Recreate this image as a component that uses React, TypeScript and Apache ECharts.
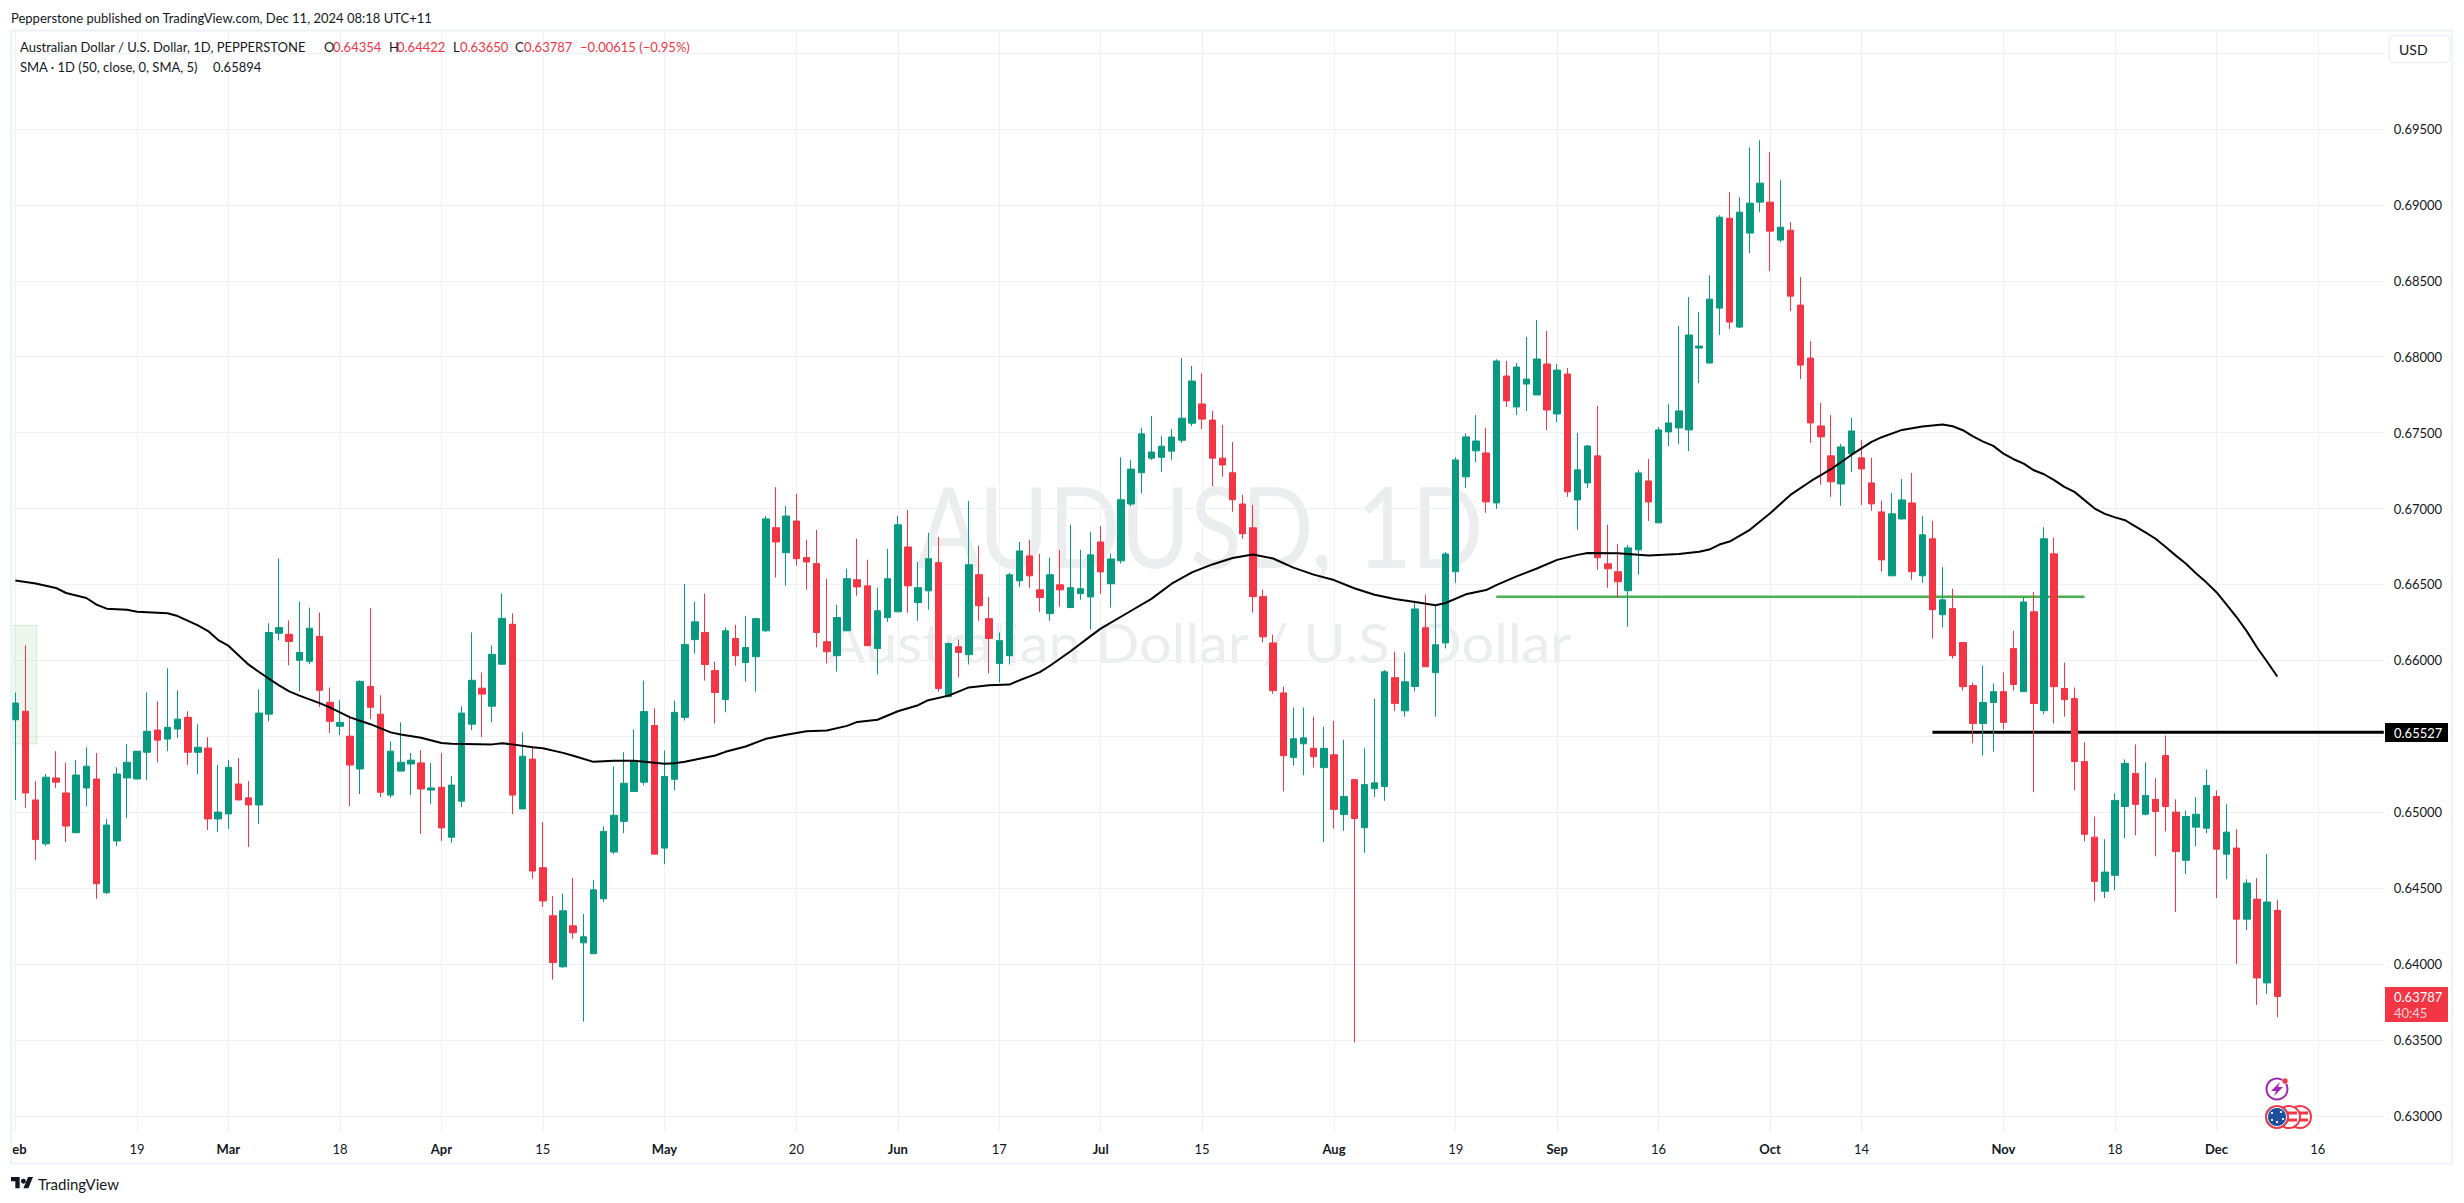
import React, { useEffect, useRef } from "react";
import * as echarts from "echarts";

const BAR_COUNT = 234; // 224 candles and ten empty future slots

const opens = [0.65609,0.65665,0.65081,0.64792,0.65226,0.65127,0.64865,0.65160,0.65219,0.64470,0.64811,0.65226,0.65219,0.65395,0.65541,0.65482,0.65548,0.65625,0.65395,0.65423,0.64956,0.64989,0.65186,0.65095,0.65048,0.65646,0.66179,0.66172,0.66001,0.65994,0.66158,0.65724,0.65566,0.65501,0.65285,0.65829,0.65646,0.65113,0.65271,0.65318,0.65325,0.65146,0.65165,0.64836,0.65073,0.65580,0.65817,0.65698,0.65975,0.66238,0.65022,0.65350,0.64635,0.64318,0.63982,0.64252,0.64140,0.64068,0.64430,0.64738,0.64940,0.65137,0.65198,0.65571,0.64764,0.65217,0.65625,0.66137,0.66184,0.65933,0.65743,0.66144,0.65987,0.66024,0.66195,0.66874,0.66709,0.66918,0.66677,0.66637,0.66123,0.66031,0.66195,0.66531,0.66491,0.66078,0.66282,0.66320,0.66747,0.66381,0.66458,0.66644,0.65761,0.66090,0.66038,0.66564,0.66275,0.65980,0.66031,0.66524,0.66688,0.66465,0.66308,0.66498,0.66348,0.66440,0.66418,0.66780,0.66505,0.66656,0.67030,0.67236,0.67332,0.67338,0.67378,0.67450,0.67562,0.67689,0.67583,0.67332,0.67236,0.67030,0.66873,0.66420,0.66115,0.65786,0.65360,0.65451,0.65421,0.65294,0.65378,0.64986,0.65215,0.64898,0.65155,0.65170,0.65886,0.65668,0.65828,0.66215,0.65919,0.66115,0.66584,0.67209,0.67380,0.67366,0.67037,0.67873,0.67669,0.67820,0.67748,0.67952,0.67623,0.67886,0.67057,0.67169,0.67347,0.66636,0.66584,0.66459,0.66728,0.67182,0.66906,0.67505,0.67531,0.67518,0.68057,0.67958,0.68320,0.68912,0.68195,0.68814,0.69018,0.69018,0.68768,0.68833,0.68340,0.67991,0.67544,0.67347,0.67162,0.67360,0.67334,0.67169,0.66978,0.66557,0.66932,0.67037,0.66557,0.66801,0.66301,0.66341,0.66118,0.65834,0.65585,0.65723,0.65794,0.66078,0.65794,0.66320,0.65669,0.66702,0.65815,0.65749,0.65334,0.64836,0.64480,0.64585,0.65038,0.65256,0.64987,0.65085,0.65374,0.65001,0.64684,0.64902,0.64895,0.65104,0.64724,0.64764,0.64296,0.64428,0.63876,0.64354];
const highs = [0.65789,0.66099,0.65205,0.65252,0.65402,0.65325,0.65343,0.65428,0.65390,0.64956,0.65296,0.65449,0.65402,0.65789,0.65731,0.65949,0.65803,0.65665,0.65580,0.65494,0.65311,0.65343,0.65357,0.65205,0.65810,0.66245,0.66672,0.66263,0.66388,0.66348,0.66315,0.65822,0.65738,0.65637,0.65869,0.66343,0.65771,0.65468,0.65592,0.65390,0.65409,0.65325,0.65390,0.65238,0.65698,0.66184,0.65921,0.66099,0.66442,0.66310,0.65526,0.65435,0.64935,0.64449,0.64463,0.64568,0.64331,0.64555,0.64907,0.65301,0.65395,0.65545,0.65867,0.65684,0.65407,0.65735,0.66503,0.66386,0.66440,0.65991,0.66217,0.66235,0.66294,0.66282,0.66951,0.67141,0.67017,0.67097,0.66794,0.66860,0.66538,0.66367,0.66604,0.66801,0.66663,0.66479,0.66735,0.66951,0.66991,0.66648,0.66841,0.66813,0.66118,0.66137,0.67050,0.66754,0.66418,0.66184,0.66578,0.66780,0.66794,0.66702,0.66677,0.66728,0.66893,0.66728,0.66846,0.66885,0.66704,0.67338,0.67320,0.67532,0.67610,0.67477,0.67523,0.67991,0.67939,0.67891,0.67643,0.67550,0.67438,0.67091,0.67024,0.66466,0.66170,0.65828,0.65690,0.65690,0.65629,0.65563,0.65602,0.65478,0.65215,0.65421,0.65747,0.65937,0.66058,0.66052,0.66387,0.66432,0.66363,0.66713,0.67338,0.67496,0.67616,0.67531,0.67983,0.67972,0.67959,0.68130,0.68241,0.68169,0.67952,0.67926,0.67498,0.67419,0.67676,0.66893,0.66768,0.66761,0.67255,0.67327,0.67537,0.67689,0.68202,0.68393,0.68294,0.68537,0.68932,0.69083,0.69050,0.69379,0.69425,0.69346,0.69162,0.68886,0.68524,0.68103,0.67695,0.67616,0.67426,0.67597,0.67452,0.67334,0.67051,0.67103,0.67195,0.67235,0.66952,0.66919,0.66615,0.66472,0.66118,0.65855,0.65965,0.65848,0.65921,0.66195,0.66418,0.66451,0.66878,0.66808,0.65986,0.65822,0.65461,0.64972,0.64822,0.65125,0.65348,0.65447,0.65329,0.65224,0.65505,0.65085,0.65012,0.65099,0.65282,0.65144,0.65052,0.64888,0.64559,0.64566,0.64724,0.64422];
const lows = [0.65081,0.65029,0.64686,0.64778,0.65160,0.64804,0.64865,0.65041,0.64430,0.64463,0.64778,0.64963,0.65219,0.65212,0.65329,0.65402,0.65489,0.65311,0.65252,0.64883,0.64869,0.64890,0.65081,0.64771,0.64923,0.65599,0.66132,0.65968,0.65796,0.65975,0.65693,0.65522,0.65508,0.65041,0.65120,0.65613,0.65099,0.65095,0.65271,0.65113,0.64858,0.65055,0.64811,0.64799,0.65034,0.65541,0.65494,0.65592,0.65975,0.64989,0.65022,0.64562,0.64376,0.63898,0.63976,0.64167,0.63621,0.64068,0.64410,0.64724,0.64862,0.65137,0.65177,0.64724,0.64658,0.65144,0.65604,0.66045,0.65867,0.65585,0.65658,0.65965,0.65860,0.65794,0.66188,0.66545,0.66491,0.66623,0.66465,0.66085,0.65980,0.65926,0.66195,0.66426,0.66097,0.65907,0.66254,0.66320,0.66313,0.66261,0.66334,0.65794,0.65761,0.65888,0.65973,0.66261,0.65914,0.65855,0.65973,0.66484,0.66479,0.66320,0.66261,0.66353,0.66348,0.66400,0.66203,0.66438,0.66348,0.66638,0.67015,0.67100,0.67320,0.67242,0.67320,0.67432,0.67544,0.67523,0.67148,0.67209,0.66979,0.66801,0.66315,0.66118,0.65780,0.65137,0.65306,0.65243,0.65294,0.64802,0.64892,0.64877,0.63485,0.64732,0.65101,0.65076,0.65668,0.65629,0.65795,0.65958,0.65629,0.66079,0.66511,0.67136,0.67307,0.66972,0.66998,0.67669,0.67616,0.67643,0.67748,0.67518,0.67570,0.67077,0.66860,0.67136,0.66597,0.66478,0.66415,0.66222,0.66564,0.66919,0.66906,0.67412,0.67426,0.67379,0.67827,0.67958,0.68143,0.68182,0.68189,0.68682,0.68952,0.68564,0.68754,0.68300,0.67853,0.67432,0.67156,0.67077,0.67018,0.67241,0.67024,0.66985,0.66584,0.66557,0.66926,0.66531,0.66511,0.66143,0.66216,0.66012,0.65801,0.65454,0.65374,0.65400,0.65545,0.65801,0.65794,0.65132,0.65644,0.65585,0.65630,0.65144,0.64808,0.64414,0.64435,0.64487,0.64829,0.64848,0.64979,0.64710,0.64874,0.64343,0.64592,0.64775,0.64862,0.64435,0.64559,0.64001,0.64224,0.63731,0.63804,0.63650];
const closes = [0.65719,0.65127,0.64820,0.65231,0.65198,0.64909,0.65245,0.65303,0.64529,0.64916,0.65252,0.65329,0.65402,0.65533,0.65475,0.65559,0.65613,0.65395,0.65428,0.64956,0.65001,0.65296,0.65081,0.65048,0.65653,0.66184,0.66216,0.66125,0.66052,0.66212,0.65803,0.65599,0.65592,0.65311,0.65862,0.65691,0.65132,0.65402,0.65329,0.65343,0.65153,0.65160,0.64897,0.65179,0.65653,0.65869,0.65778,0.66040,0.66277,0.65113,0.65369,0.64613,0.64416,0.64010,0.64351,0.64206,0.64180,0.64489,0.64874,0.64980,0.65191,0.65334,0.65663,0.64724,0.65236,0.65658,0.66104,0.66254,0.65973,0.65789,0.66195,0.66031,0.66085,0.66275,0.66932,0.66780,0.66951,0.66670,0.66648,0.66184,0.66057,0.66282,0.66538,0.66484,0.66097,0.66327,0.66538,0.66893,0.66491,0.66479,0.66670,0.65815,0.66111,0.66052,0.66630,0.66360,0.66144,0.66130,0.66564,0.66721,0.66557,0.66414,0.66564,0.66465,0.66479,0.66472,0.66695,0.66583,0.66668,0.67058,0.67260,0.67492,0.67372,0.67411,0.67471,0.67595,0.67840,0.67589,0.67332,0.67287,0.67058,0.66834,0.66420,0.66155,0.65801,0.65372,0.65484,0.65490,0.65366,0.65421,0.65019,0.65104,0.64959,0.65182,0.65194,0.65925,0.65717,0.65859,0.66339,0.65958,0.66103,0.66701,0.67320,0.67472,0.67445,0.67044,0.67972,0.67709,0.67932,0.67853,0.67985,0.67649,0.67912,0.67110,0.67255,0.67412,0.66676,0.66603,0.66518,0.66741,0.67235,0.67044,0.67518,0.67564,0.67643,0.68143,0.68070,0.68379,0.68919,0.68228,0.68952,0.69011,0.69143,0.68827,0.68853,0.68399,0.67945,0.67564,0.67472,0.67176,0.67406,0.67511,0.67261,0.67031,0.66662,0.66965,0.67057,0.66584,0.66827,0.66334,0.66399,0.66031,0.65827,0.65585,0.65723,0.65794,0.65592,0.65841,0.66385,0.65716,0.66801,0.65827,0.65742,0.65334,0.64855,0.64545,0.64606,0.65078,0.65322,0.65052,0.65111,0.65005,0.65038,0.64742,0.64972,0.64987,0.65177,0.64757,0.64869,0.64296,0.64534,0.63909,0.64409,0.63787];

const smaBars = [0,2,4,5,7,8,9,11,12,15,16,18,19,20,21,23,24,25,26,27,28,30,31,33,35,37,38,40,42,43,47,48,49,51,52,54,55,57,59,61,64,65,66,69,70,72,74,76,78,80,82,83,85,87,89,90,92,94,96,98,99,100,101,102,104,106,107,110,112,114,116,118,120,122,124,126,128,130,132,134,136,138,140,141,143,145,146,148,150,152,154,155,158,161,164,166,167,168,169,171,173,175,177,179,181,183,184,186,188,190,191,192,193,194,195,196,197,198,199,200,201,202,203,205,206,207,208,209,210,211,212,213,214,215,216,217,218,219,220,221,222,223];
const smaValues = [0.66526,0.66507,0.66477,0.66444,0.66411,0.66367,0.66341,0.66334,0.66320,0.66310,0.66292,0.66231,0.66193,0.66134,0.66097,0.65972,0.65925,0.65879,0.65836,0.65796,0.65768,0.65719,0.65691,0.65625,0.65580,0.65526,0.65512,0.65491,0.65456,0.65451,0.65447,0.65454,0.65447,0.65428,0.65421,0.65391,0.65372,0.65332,0.65339,0.65339,0.65320,0.65322,0.65332,0.65374,0.65398,0.65433,0.65484,0.65510,0.65534,0.65538,0.65569,0.65595,0.65609,0.65665,0.65705,0.65738,0.65768,0.65822,0.65836,0.65841,0.65869,0.65895,0.65923,0.65965,0.66059,0.66160,0.66209,0.66327,0.66405,0.66505,0.66580,0.66632,0.66674,0.66698,0.66671,0.66611,0.66565,0.66529,0.66475,0.66432,0.66405,0.66384,0.66363,0.66378,0.66435,0.66463,0.66496,0.66553,0.66605,0.66662,0.66695,0.66708,0.66706,0.66691,0.66700,0.66715,0.66730,0.66763,0.66783,0.66860,0.66969,0.67090,0.67180,0.67259,0.67353,0.67439,0.67470,0.67518,0.67540,0.67553,0.67542,0.67516,0.67476,0.67441,0.67413,0.67362,0.67325,0.67296,0.67252,0.67226,0.67187,0.67143,0.67110,0.67000,0.66965,0.66942,0.66923,0.66883,0.66843,0.66801,0.66747,0.66690,0.66636,0.66573,0.66514,0.66449,0.66367,0.66284,0.66191,0.66085,0.65991,0.65894];

const supportLevel = [[146, 0.6642], [204, 0.6642]];
const markedLevel = [[189, 0.65527], [233.5, 0.65527]];
const shadedZone = { fromBar: -0.46, toBar: 2.12, top: 0.6623, bottom: 0.6545 };

const timeTicks = [0,12,21,32,42,52,64,77,87,97,107,117,130,142,152,162,173,182,196,207,217,227];
const timeLabels = ["eb","19","Mar","18","Apr","15","May","20","Jun","17","Jul","15","Aug","19","Sep","16","Oct","14","Nov","18","Dec","16"];
const priceTicks = [0.63,0.635,0.64,0.645,0.65,0.655,0.66,0.665,0.67,0.675,0.68,0.685,0.69,0.695,0.7];
const priceLabels = [0.63,0.635,0.64,0.645,0.65,0.655,0.66,0.665,0.67,0.675,0.68,0.685,0.69,0.695];

const GREEN = "#089981";
const RED = "#f23645";
const INK = "#131722";
const GRID = "#f0f1f4";
const FRAME = "#f0f3fa";
const FONT = "Lato, sans-serif";

const TV_LOGO = "M14 22H7V11H0V4h14v18zM28 22h-8l7.5-18h8L28 22zM20 15a4 4 0 1 0 0-8 4 4 0 0 0 0 8z";
echarts.graphic.registerShape("tvLogo", echarts.graphic.extendPath(TV_LOGO, {}) as any);

const label = (text: string, x: number, y: number, fill = INK, size = 13, extra: any = {}) => ({
  type: "text",
  x,
  y,
  z: 10,
  silent: true,
  style: { text, fill, fontFamily: FONT, fontSize: size, textAlign: "left", textVerticalAlign: "middle", verticalAlign: "middle", ...extra },
});

const stars: [number, number][] = [[2272, 1113], [2281, 1112], [2283, 1119], [2277, 1122], [2272, 1120]];

const overlay: any[] = [
  // watermark
  { type: "text", x: 1200, y: 525, scaleX: 0.845, z: -1, silent: true, style: { text: "AUDUSD, 1D", fill: "#ecedef", fontFamily: FONT, fontSize: 112, textAlign: "center", textVerticalAlign: "middle", verticalAlign: "middle" } },
  { type: "text", x: 1199, y: 642, scaleX: 1.07, z: -1, silent: true, style: { text: "Australian Dollar / U.S. Dollar", fill: "#ecedef", fontFamily: FONT, fontSize: 54, textAlign: "center", textVerticalAlign: "middle", verticalAlign: "middle" } },
  // pane frame
  { type: "rect", z: 9, silent: true, shape: { x: 11, y: 30.5, width: 2441, height: 1133 }, style: { fill: "none", stroke: FRAME, lineWidth: 2.5 } },
  // header
  label("Pepperstone published on TradingView.com, Dec 11, 2024 08:18 UTC+11", 11, 18),
  label("Australian Dollar / U.S. Dollar, 1D, PEPPERSTONE", 20, 47),
  label("O", 324, 47),
  label("0.64354", 333, 47, RED),
  label("H", 389, 47),
  label("0.64422", 397, 47, RED),
  label("L", 453, 47),
  label("0.63650", 460, 47, RED),
  label("C", 515, 47),
  label("0.63787", 524, 47, RED),
  label("\u22120.00615 (\u22120.95%)", 580, 47, RED),
  label("SMA \u00b7 1D (50, close, 0, SMA, 5)", 20, 67),
  label("0.65894", 213, 67),
  // currency button
  { type: "rect", z: 10, silent: true, shape: { x: 2389, y: 35.5, width: 61, height: 27, r: 5 }, style: { fill: "#fff", stroke: "#eef0f5", lineWidth: 1.5 } },
  label("USD", 2399, 49, INK, 14),
  // price tags
  { type: "rect", z: 10, silent: true, shape: { x: 2385, y: 723, width: 63, height: 19 }, style: { fill: "#000" } },
  label("0.65527", 2394, 733, "#fff"),
  { type: "rect", z: 10, silent: true, shape: { x: 2385, y: 987, width: 63, height: 35 }, style: { fill: RED } },
  label("0.63787", 2394, 997, "#fff"),
  label("40:45", 2394, 1013, "#ffd0d4"),
  // events
  { type: "circle", z: 10, silent: true, shape: { cx: 2277, cy: 1089, r: 10.5 }, style: { fill: "#fff", stroke: "#9c27b0", lineWidth: 2 } },
  { type: "polygon", z: 11, silent: true, shape: { points: [[2280, 1082], [2271, 1091], [2276, 1091], [2274, 1096], [2283, 1087], [2278, 1087]] }, style: { fill: "#9c27b0" } },
  { type: "circle", z: 12, silent: true, shape: { cx: 2285, cy: 1081, r: 3 }, style: { fill: RED, stroke: "#fff", lineWidth: 0.5 } },
  // flags, back to front
  { type: "circle", z: 10, silent: true, shape: { cx: 2300, cy: 1117, r: 11 }, style: { fill: "#fff", stroke: RED, lineWidth: 2 } },
  { type: "line", z: 10, silent: true, shape: { x1: 2293, y1: 1113, x2: 2308, y2: 1113 }, style: { stroke: RED, lineWidth: 3 } },
  { type: "line", z: 10, silent: true, shape: { x1: 2293, y1: 1120, x2: 2308, y2: 1120 }, style: { stroke: RED, lineWidth: 3 } },
  { type: "circle", z: 11, silent: true, shape: { cx: 2289, cy: 1117, r: 11 }, style: { fill: "#fff", stroke: RED, lineWidth: 2 } },
  { type: "line", z: 11, silent: true, shape: { x1: 2282, y1: 1113, x2: 2297, y2: 1113 }, style: { stroke: RED, lineWidth: 3 } },
  { type: "line", z: 11, silent: true, shape: { x1: 2282, y1: 1120, x2: 2297, y2: 1120 }, style: { stroke: RED, lineWidth: 3 } },
  { type: "circle", z: 12, silent: true, shape: { cx: 2277, cy: 1117, r: 11 }, style: { fill: "#1d4f9f", stroke: RED, lineWidth: 2 } },
  { type: "circle", z: 12, silent: true, shape: { cx: 2277, cy: 1117, r: 9.5 }, style: { fill: "none", stroke: "#fff", lineWidth: 1 } },
  ...stars.map(([cx, cy]) => ({ type: "circle", z: 13, silent: true, shape: { cx, cy, r: 1.1 }, style: { fill: "#fff" } })),
  // brand
  { type: "tvLogo", x: 11, y: 1174.5, scaleX: 0.62, scaleY: 0.62, z: 10, silent: true, style: { fill: INK } },
  label("TradingView", 38, 1184, INK, 15),
];

const buildOption = (): any => ({
  animation: false,
  backgroundColor: "#ffffff",
  grid: { left: 10.29, right: 80.2, top: 31, bottom: 70.5, containLabel: false },
  xAxis: [
    {
      type: "category",
      data: Array.from({ length: BAR_COUNT }, (_, i) => String(i)),
      boundaryGap: true,
      axisLine: { show: false },
      axisTick: { show: false },
      axisLabel: { show: false },
      splitLine: { show: false },
    },
    {
      type: "value",
      position: "bottom",
      min: -0.5,
      max: BAR_COUNT - 0.5,
      axisLine: { show: false },
      axisTick: { show: false, customValues: timeTicks },
      splitLine: { show: true, lineStyle: { color: GRID, width: 1 } },
      axisLabel: {
        show: true,
        customValues: timeTicks,
        margin: 10,
        hideOverlap: false,
        formatter: (v: number) => {
          const text = timeLabels[timeTicks.indexOf(v)] ?? "";
          if (text === "eb") return "{first|eb}";
          return /^\d/.test(text) ? `{day|${text}}` : `{month|${text}}`;
        },
        rich: {
          day: { fontFamily: FONT, fontSize: 13, color: INK },
          month: { fontFamily: FONT, fontSize: 13, color: INK, fontWeight: "bold" },
          first: { fontFamily: FONT, fontSize: 13, color: INK, fontWeight: "bold", padding: [0, 0, 0, 8] },
        },
      },
    },
  ],
  yAxis: {
    type: "value",
    position: "right",
    scale: true,
    min: 0.62891,
    max: 0.70145,
    axisLine: { show: false },
    axisTick: { show: false, customValues: priceTicks },
    splitLine: { show: true, lineStyle: { color: GRID, width: 1 } },
    axisLabel: {
      show: true,
      customValues: priceLabels,
      margin: 10,
      fontFamily: FONT,
      fontSize: 13,
      color: INK,
      formatter: (v: number) => v.toFixed(5),
    },
  },
  graphic: overlay,
  series: [
    {
      name: "Support",
      type: "line",
      xAxisIndex: 1,
      z: 1,
      symbol: "none",
      silent: true,
      data: supportLevel,
      lineStyle: { color: "#4caf50", width: 2.5 },
      markArea: {
        silent: true,
        itemStyle: { color: "rgba(76,175,80,0.1)", borderColor: "rgba(76,175,80,0.2)", borderWidth: 1 },
        data: [[{ coord: [shadedZone.fromBar, shadedZone.top] }, { coord: [shadedZone.toBar, shadedZone.bottom] }]],
      },
    },
    {
      name: "Level",
      type: "line",
      xAxisIndex: 1,
      z: 1,
      symbol: "none",
      silent: true,
      data: markedLevel,
      lineStyle: { color: "#000000", width: 3 },
    },
    {
      name: "AUDUSD",
      type: "candlestick",
      z: 2,
      silent: true,
      large: false,
      barWidth: 7,
      data: opens.map((o, i) => [o, closes[i], lows[i], highs[i]]),
      itemStyle: { color: GREEN, color0: RED, borderColor: GREEN, borderColor0: RED, borderWidth: 1 },
    },
    {
      name: "SMA 50",
      type: "line",
      xAxisIndex: 1,
      z: 3,
      symbol: "none",
      silent: true,
      data: smaBars.map((b, i) => [b, smaValues[i]]),
      lineStyle: { color: "#000000", width: 2 },
    },
  ],
});

export default function App() {
  const ref = useRef<HTMLDivElement>(null);
  useEffect(() => {
    if (!ref.current) return;
    const chart = echarts.init(ref.current, undefined, { renderer: "svg" });
    chart.setOption(buildOption());
    return () => chart.dispose();
  }, []);
  return <div ref={ref} style={{ position: "fixed", left: 0, top: 0, width: 2464, height: 1203 }} />;
}
